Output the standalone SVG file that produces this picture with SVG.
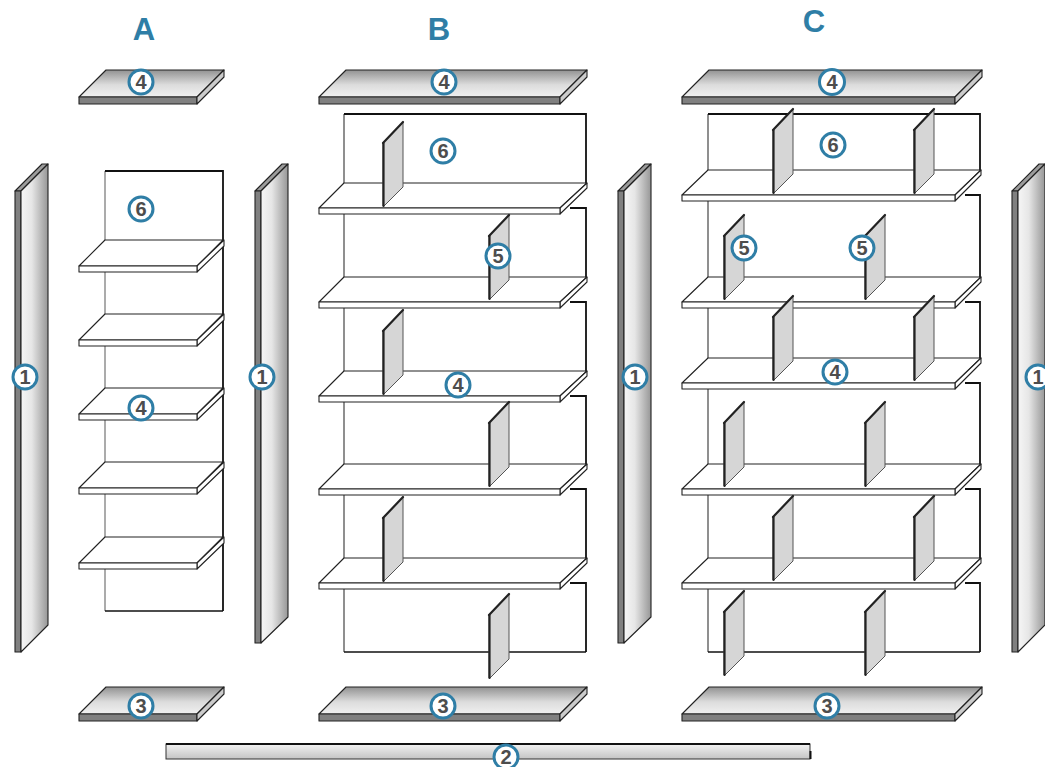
<svg xmlns="http://www.w3.org/2000/svg" xmlns:xlink="http://www.w3.org/1999/xlink" width="1045" height="767" viewBox="0 0 1045 767">
<style>
.e{stroke:#222;stroke-width:1.1;stroke-linejoin:round}
.w{fill:#fff}
.t{fill:url(#gt)}
.d{fill:#808080}
.s{fill:#ccc}
.f{fill:url(#gp)}
.dv{fill:#d6d6d6;stroke:#555;stroke-width:1;stroke-linejoin:round}
.de{fill:none;stroke:#222;stroke-width:2.2;stroke-linecap:round}
.bk{fill:#fff;stroke:none}
.l{fill:none;stroke:#333;stroke-width:1.1}
.g{fill:none;stroke:#666;stroke-width:1.1}
.b{fill:none;stroke:#111;stroke-width:1.4}
.h{fill:none;stroke:#111;stroke-width:1.8;stroke-linejoin:miter}
.c{fill:#fff;stroke:#2f7ea6;stroke-width:3}
.n{font-family:"Liberation Sans",Arial,sans-serif;font-weight:700;font-size:20px;fill:#4d4d4d;text-anchor:middle}
.ti{font-family:"Liberation Sans",Arial,sans-serif;font-weight:700;font-size:31px;fill:#2f7ea6;text-anchor:middle}
</style>
<defs>
<linearGradient id="gt" x1="0" y1="0" x2="0" y2="1"><stop offset="0" stop-color="#929292"/><stop offset="0.55" stop-color="#dcdcdc"/><stop offset="1" stop-color="#f0f0f0"/></linearGradient>
<linearGradient id="gp" x1="0" y1="0" x2="1" y2="0"><stop offset="0" stop-color="#f6f6f6"/><stop offset="0.4" stop-color="#e6e6e6"/><stop offset="1" stop-color="#979797"/></linearGradient>
<linearGradient id="gl" x1="0" y1="0" x2="0" y2="1"><stop offset="0" stop-color="#f2f2f2"/><stop offset="1" stop-color="#c4c4c4"/></linearGradient>
<g id="shA"><polygon class="e w" points="79,266 105,240 223,240 197,266"/><polygon class="e w" points="197,266 224,240 224,246 197,272"/><rect class="e w" x="79" y="266" width="118" height="6"/></g>
<g id="shB"><polygon class="e w" points="319,208 344,183 587,183 560,208"/><polygon class="e w" points="560,208 587,183 587,188 560,214"/><rect class="e w" x="319" y="208" width="241" height="6"/></g>
<g id="shC"><polygon class="e w" points="682,195 708,170 981,170 955,195"/><polygon class="e w" points="955,195 981,170 981,175 955,201"/><rect class="e w" x="682" y="195" width="273" height="6"/></g>
<g id="dv"><polygon class="dv" points="0,21 20,0 20,65 1,84 0,84"/><path class="de" d="M0,21 L20,0"/><path class="de" d="M0.5,21 V84"/></g>
<g id="pn"><polygon class="e" fill="#9c9c9c" points="0,27 27,0 33,0 6,27"/><rect class="e d" x="0" y="27" width="6" height="452"/><polygon class="e f" points="6,27 33,0 33,453 6,479"/></g>
<g id="pnL"><polygon class="e" fill="#9c9c9c" points="0,27 27,0 33,0 6,27"/><rect class="e d" x="0" y="27" width="6" height="461"/><polygon class="e f" points="6,27 33,0 33,461 6,488"/></g>
</defs>

<g id="panel-1a"><use xlink:href="#pnL" href="#pnL" x="15" y="164"/></g>
<g id="panel-1b"><use xlink:href="#pn" href="#pn" x="255" y="164"/></g>
<g id="panel-1c"><use xlink:href="#pn" href="#pn" x="618" y="164"/></g>
<g id="panel-1d"><use xlink:href="#pnL" href="#pnL" x="1012" y="164"/></g>

<g id="top-a"><polygon class="e t" points="79,97 106,70 224,70 197,97"/><rect class="e d" x="79" y="97" width="118" height="7"/><polygon class="e s" points="197,97 224,70 224,77 197,104"/></g>
<g id="top-b"><polygon class="e t" points="319,97 346,70 587,70 560,97"/><rect class="e d" x="319" y="97" width="241" height="7"/><polygon class="e s" points="560,97 587,70 587,77 560,104"/></g>
<g id="top-c"><polygon class="e t" points="682,97 709,70 982,70 955,97"/><rect class="e d" x="682" y="97" width="273" height="7"/><polygon class="e s" points="955,97 982,70 982,77 955,104"/></g>
<g id="bottom-a"><polygon class="e t" points="79,714 106,687 224,687 197,714"/><rect class="e d" x="79" y="714" width="118" height="7"/><polygon class="e s" points="197,714 224,687 224,694 197,721"/></g>
<g id="bottom-b"><polygon class="e t" points="319,714 346,687 587,687 560,714"/><rect class="e d" x="319" y="714" width="241" height="7"/><polygon class="e s" points="560,714 587,687 587,694 560,721"/></g>
<g id="bottom-c"><polygon class="e t" points="682,714 709,687 982,687 955,714"/><rect class="e d" x="682" y="714" width="273" height="7"/><polygon class="e s" points="955,714 982,687 982,694 955,721"/></g>

<g id="plinth"><rect x="166" y="744" width="644" height="15" fill="url(#gl)" stroke="#333" stroke-width="1"/><path class="h" d="M166,744 H810"/><path d="M810.5,751 V759" stroke="#111" stroke-width="2" fill="none"/></g>

<g id="unit-a">
<rect class="bk" x="105" y="171" width="118" height="440"/>
<path class="g" d="M105,171 V611"/><path class="h" d="M105,171 H223 V611"/><path class="b" d="M105,611 H223"/>
<use xlink:href="#shA" href="#shA"/><use xlink:href="#shA" href="#shA" y="74"/><use xlink:href="#shA" href="#shA" y="148"/><use xlink:href="#shA" href="#shA" y="222"/><use xlink:href="#shA" href="#shA" y="297"/>
</g>

<g id="unit-b">
<path class="l" d="M344,114 V652"/><path class="b" d="M344,652 H586"/>
<path class="h" d="M344,114 H586 V183"/>
<path class="h" d="M570,208 H586 V277"/><path class="h" d="M570,302 H586 V371"/><path class="h" d="M570,396 H586 V464"/><path class="h" d="M570,489 H586 V558"/><path class="h" d="M570,583 H586 V652"/>
<use xlink:href="#shB" href="#shB"/><use xlink:href="#shB" href="#shB" y="94"/><use xlink:href="#shB" href="#shB" y="188"/><use xlink:href="#shB" href="#shB" y="281"/><use xlink:href="#shB" href="#shB" y="375"/>
<use xlink:href="#dv" href="#dv" x="383" y="122"/><use xlink:href="#dv" href="#dv" x="489" y="215"/><use xlink:href="#dv" href="#dv" x="383" y="310"/><use xlink:href="#dv" href="#dv" x="489" y="402"/><use xlink:href="#dv" href="#dv" x="383" y="497"/><use xlink:href="#dv" href="#dv" x="489" y="594"/>
</g>

<g id="unit-c">
<path class="l" d="M708,114 V652"/><path class="b" d="M708,652 H980"/>
<path class="h" d="M708,114 H980 V170"/>
<path class="h" d="M965,195 H980 V277"/><path class="h" d="M965,302 H980 V358"/><path class="h" d="M965,383 H980 V464"/><path class="h" d="M965,489 H980 V558"/><path class="h" d="M965,583 H980 V652"/>
<use xlink:href="#shC" href="#shC"/><use xlink:href="#shC" href="#shC" y="107"/><use xlink:href="#shC" href="#shC" y="188"/><use xlink:href="#shC" href="#shC" y="294"/><use xlink:href="#shC" href="#shC" y="388"/>
<use xlink:href="#dv" href="#dv" x="773" y="109"/><use xlink:href="#dv" href="#dv" x="914" y="109"/>
<use xlink:href="#dv" href="#dv" x="724" y="215"/><use xlink:href="#dv" href="#dv" x="865" y="215"/>
<use xlink:href="#dv" href="#dv" x="773" y="296"/><use xlink:href="#dv" href="#dv" x="914" y="296"/>
<use xlink:href="#dv" href="#dv" x="724" y="402"/><use xlink:href="#dv" href="#dv" x="865" y="402"/>
<use xlink:href="#dv" href="#dv" x="773" y="496"/><use xlink:href="#dv" href="#dv" x="914" y="496"/>
<use xlink:href="#dv" href="#dv" x="724" y="591"/><use xlink:href="#dv" href="#dv" x="865" y="591"/>
</g>

<g id="titles">
<text class="ti" x="144" y="40">A</text>
<text class="ti" x="439" y="40">B</text>
<text class="ti" x="814" y="32">C</text>
</g>

<g id="labels">
<g><circle class="c" cx="141" cy="82" r="12"/><text class="n" x="141" y="89">4</text></g>
<g><circle class="c" cx="141" cy="209" r="12"/><text class="n" x="141" y="216">6</text></g>
<g><circle class="c" cx="141" cy="408" r="12"/><text class="n" x="141" y="415">4</text></g>
<g><circle class="c" cx="141" cy="706" r="12"/><text class="n" x="141" y="713">3</text></g>
<g><circle class="c" cx="25" cy="377" r="12"/><text class="n" x="25" y="384">1</text></g>
<g><circle class="c" cx="262" cy="377" r="12"/><text class="n" x="262" y="384">1</text></g>
<g><circle class="c" cx="444" cy="82" r="12"/><text class="n" x="444" y="89">4</text></g>
<g><circle class="c" cx="443" cy="151" r="12"/><text class="n" x="443" y="158">6</text></g>
<g><circle class="c" cx="498" cy="256" r="12"/><text class="n" x="498" y="263">5</text></g>
<g><circle class="c" cx="458" cy="385" r="12"/><text class="n" x="458" y="392">4</text></g>
<g><circle class="c" cx="443" cy="706" r="12"/><text class="n" x="443" y="713">3</text></g>
<g><circle class="c" cx="635" cy="377" r="12"/><text class="n" x="635" y="384">1</text></g>
<g><circle class="c" cx="832" cy="82" r="12.5"/><text class="n" x="832" y="89">4</text></g>
<g><circle class="c" cx="833" cy="145" r="12"/><text class="n" x="833" y="152">6</text></g>
<g><circle class="c" cx="744" cy="248" r="12"/><text class="n" x="744" y="255">5</text></g>
<g><circle class="c" cx="862" cy="248" r="12"/><text class="n" x="862" y="255">5</text></g>
<g><circle class="c" cx="835" cy="372" r="12"/><text class="n" x="835" y="379">4</text></g>
<g><circle class="c" cx="827" cy="706" r="12"/><text class="n" x="827" y="713">3</text></g>
<g><circle class="c" cx="1038" cy="377" r="12"/><text class="n" x="1038" y="384">1</text></g>
<g><circle class="c" cx="506" cy="757" r="12"/><text class="n" x="506" y="764">2</text></g>
</g>
</svg>
